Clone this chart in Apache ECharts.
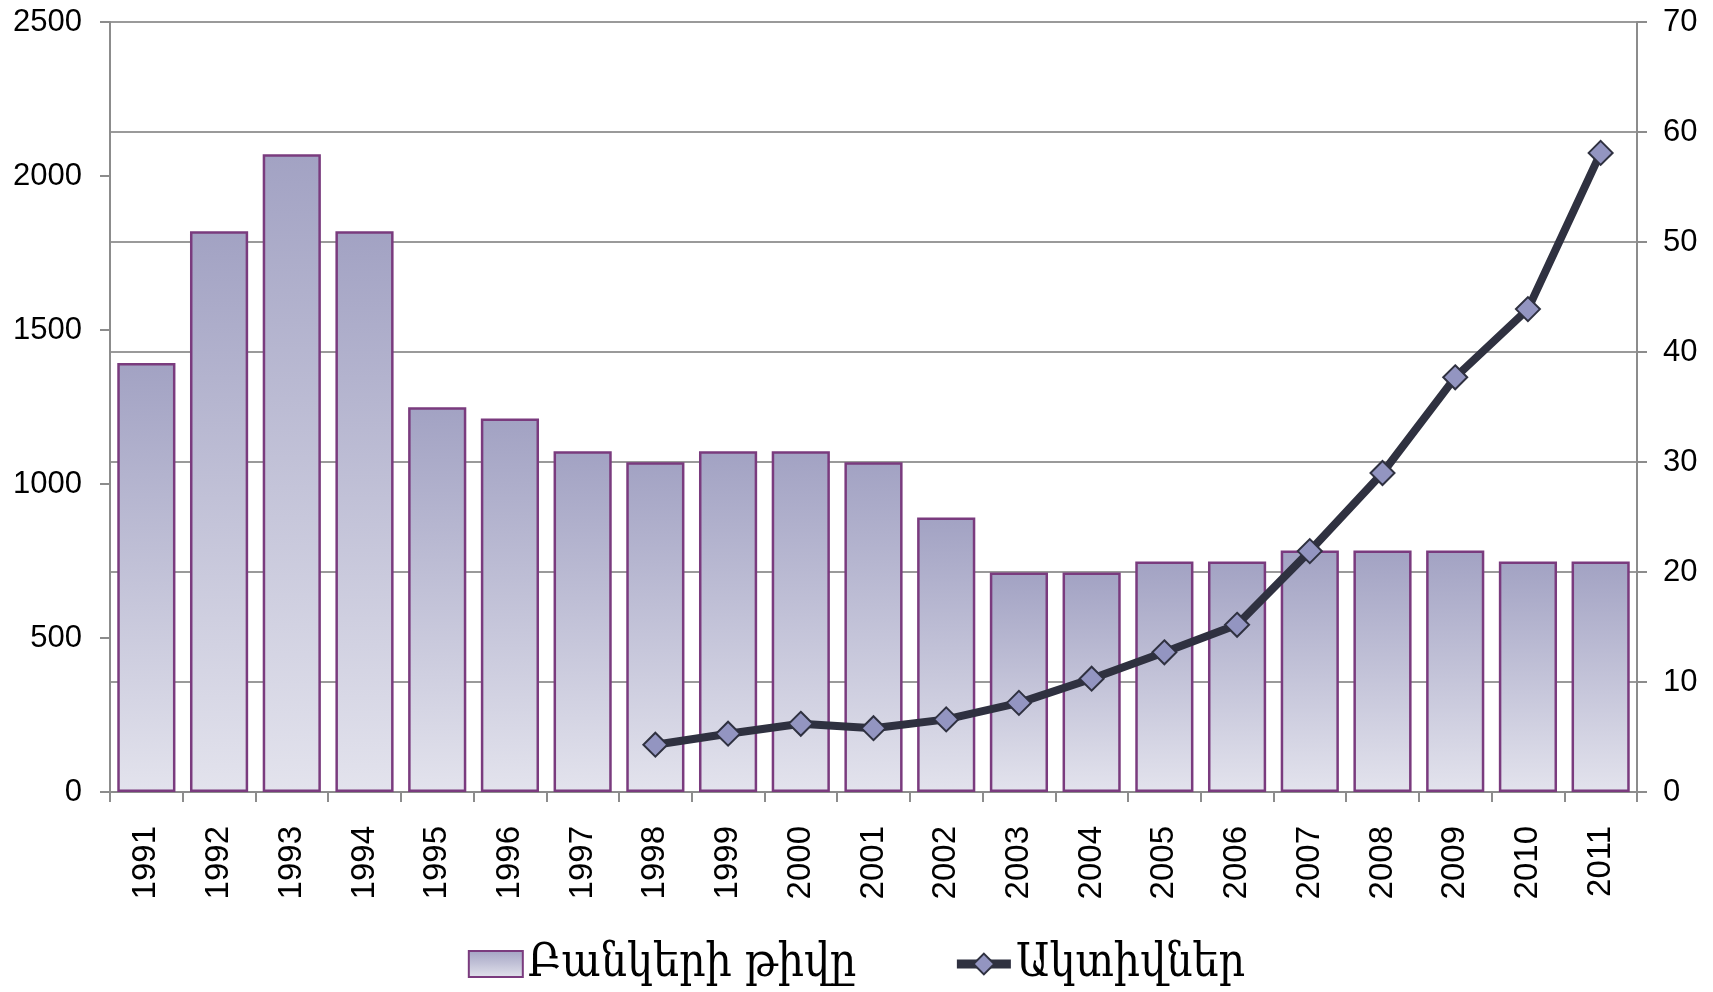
<!DOCTYPE html>
<html>
<head>
<meta charset="utf-8">
<title>Բանկերի թիվը և Ակտիվներ</title>
<script src="https://cdn.jsdelivr.net/npm/echarts@6/dist/echarts.min.js"></script>
<style>
  html, body { margin: 0; padding: 0; background: #fff; }
  #chart { width: 1713px; height: 992px; }
</style>
</head>
<body>
<div id="chart"></div>
<script>
  // years on the x axis
  const years = ['1991', '1992', '1993', '1994', '1995', '1996', '1997', '1998', '1999', '2000',
    '2001', '2002', '2003', '2004', '2005', '2006', '2007', '2008', '2009', '2010', '2011']
  // number of banks (left axis)
  const bankCount = [1393, 1821, 2071, 1821, 1249, 1213, 1106, 1071, 1106, 1106,
    1071, 891, 713, 713, 748, 748, 784, 784, 784, 748, 748]
  // assets (right axis), no data before 1998
  const assets = [null, null, null, null, null, null, null, 4.3, 5.3, 6.2,
    5.8, 6.6, 8.1, 10.3, 12.7, 15.2, 21.9, 29.0, 37.7, 43.9, 58.1]
  const leftTicks = { min: 0, max: 2500, interval: 500 }
  const rightTicks = { min: 0, max: 70, interval: 10 }

  const labelFont = '"Liberation Sans", Arial, Helvetica, sans-serif'
  const axisGray = '#8c8c8c'
  const lineColor = '#2f3140'

  const myChart = echarts.init(document.getElementById('chart'), null, { renderer: 'canvas' })

  const option = {
    backgroundColor: '#ffffff',
    animation: false,
    grid: { left: 110, right: 76, top: 22, bottom: 200, containLabel: false },
    legend: {
      left: 'center',
      top: 936,
      itemGap: 96,
      itemWidth: 54,
      itemHeight: 26,
      textStyle: {
        fontSize: 46,
        color: '#000',
        fontFamily: '"DejaVu Serif Condensed", "DejaVu Sans Condensed", "DejaVu Sans", serif'
      },
      data: [
        { name: 'Բանկերի թիվը', icon: 'rect' },
        { name: 'Ակտիվներ', lineStyle: { width: 9, color: lineColor } }
      ]
    },
    xAxis: {
      type: 'category',
      data: years,
      boundaryGap: true,
      axisLine: { lineStyle: { color: axisGray, width: 2 } },
      axisTick: { show: true, interval: 0, length: 10, lineStyle: { color: axisGray, width: 2 } },
      axisLabel: {
        interval: 0,
        rotate: 90,
        margin: 34,
        fontSize: 33,
        color: '#000',
        fontFamily: labelFont
      },
      splitLine: { show: false }
    },
    yAxis: [
      {
        type: 'value',
        position: 'left',
        min: leftTicks.min,
        max: leftTicks.max,
        interval: leftTicks.interval,
        axisLine: { show: true, lineStyle: { color: axisGray, width: 2 } },
        axisTick: { show: true, length: 10, lineStyle: { color: axisGray, width: 2 } },
        axisLabel: {
          fontSize: 31, color: '#000', margin: 28, fontFamily: labelFont,
          formatter: v => String(v)
        },
        splitLine: { show: false }
      },
      {
        type: 'value',
        position: 'right',
        min: rightTicks.min,
        max: rightTicks.max,
        interval: rightTicks.interval,
        axisLine: { show: true, lineStyle: { color: axisGray, width: 2 } },
        axisTick: { show: true, length: 10, lineStyle: { color: axisGray, width: 2 } },
        axisLabel: { fontSize: 31, color: '#000', margin: 26, fontFamily: labelFont },
        splitLine: { show: true, lineStyle: { color: '#9a9a9a', width: 2 } }
      }
    ],
    series: [
      {
        name: 'Բանկերի թիվը',
        type: 'bar',
        yAxisIndex: 0,
        data: bankCount,
        barCategoryGap: '20%',
        itemStyle: {
          color: new echarts.graphic.LinearGradient(0, 0, 0, 1, [
            { offset: 0, color: '#a2a2c3' },
            { offset: 1, color: '#e3e3ed' }
          ]),
          borderColor: '#7a3b7e',
          borderWidth: 2.5
        },
        z: 2
      },
      {
        name: 'Ակտիվներ',
        type: 'line',
        yAxisIndex: 1,
        data: assets,
        symbol: 'diamond',
        symbolSize: 24,
        lineStyle: { color: lineColor, width: 8 },
        itemStyle: { color: '#9395c1', borderColor: lineColor, borderWidth: 2 },
        z: 5
      }
    ]
  }

  myChart.setOption(option)
  window.addEventListener('resize', () => myChart.resize())
</script>
</body>
</html>
